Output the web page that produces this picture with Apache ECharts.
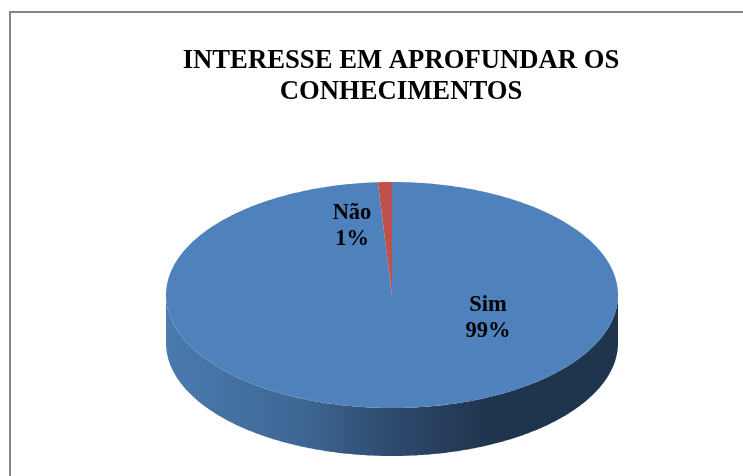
<!DOCTYPE html>
<html>
<head>
<meta charset="utf-8">
<style>
  html, body { margin: 0; padding: 0; background: #fff; }
  #main { width: 743px; height: 476px; }
</style>
<script src="https://cdn.jsdelivr.net/npm/echarts@6/dist/echarts.min.js"></script>
</head>
<body>
<div id="main"></div>
<script>
var categories = ['Sim', 'Não'];
var values = [99, 1];
var percentLabels = ['99%', '1%'];
var sliceColors = ['#4f81bd', '#c0504d'];

// the pie is flattened by hand, echarts has no 3d pie
var cx = 392, cy = 295, rx = 226, ry = 113, depth = 48;
var labelPos = [[488, 318], [352, 226]];
var total = values.reduce(function(a, b) { return a + b; }, 0);

function pt(a, dy) {
  return [cx + rx * Math.sin(a), cy - ry * Math.cos(a) + (dy || 0)];
}

function arc(a0, a1, dy) {
  var pts = [];
  var n = Math.max(2, Math.ceil((a1 - a0) / 0.01));
  for (var i = 0; i <= n; i++) {
    pts.push(pt(a0 + (a1 - a0) * i / n, dy));
  }
  return pts;
}

var wallColor = new echarts.graphic.LinearGradient(cx - rx, 0, cx + rx, 0, [
  { offset: 0, color: '#4a7aaf' },
  { offset: 0.3, color: '#3e6794' },
  { offset: 0.5, color: '#2e4a6d' },
  { offset: 0.72, color: '#1f344d' },
  { offset: 1, color: '#1f344d' }
], true);

function renderSlice(params, api) {
  var i = params.dataIndex;
  var before = 0;
  for (var k = 0; k < i; k++) before += values[k];
  var a0 = before / total * Math.PI * 2;
  var a1 = (before + api.value(0)) / total * Math.PI * 2;
  var children = [];

  // only the front half of the wall can be seen
  var w0 = Math.max(a0, Math.PI / 2);
  var w1 = Math.min(a1, Math.PI * 1.5);
  if (w1 > w0) {
    children.push({
      type: 'polygon',
      shape: { points: arc(w0, w1, 0).concat(arc(w0, w1, depth).reverse()) },
      style: { fill: wallColor }
    });
  }

  children.push({
    type: 'polygon',
    shape: { points: [[cx, cy]].concat(arc(a0, a1, 0)) },
    style: { fill: sliceColors[i] }
  });

  children.push({
    type: 'text',
    z2: 10,
    style: {
      x: labelPos[i][0],
      y: labelPos[i][1],
      text: categories[i] + '\n' + percentLabels[i],
      align: 'center',
      verticalAlign: 'middle',
      fill: '#000',
      font: 'bold 22.5px "Liberation Serif"',
      lineHeight: 25.5
    }
  });

  return { type: 'group', children: children };
}

var chart = echarts.init(document.getElementById('main'), null, { renderer: 'canvas' });
chart.setOption({
  animation: false,
  backgroundColor: '#fff',
  title: {
    text: 'INTERESSE EM APROFUNDAR OS\nCONHECIMENTOS',
    left: 396,
    top: 41,
    textAlign: 'center',
    textStyle: {
      fontFamily: 'Liberation Serif',
      fontWeight: 'bold',
      fontSize: 26.7,
      lineHeight: 31,
      color: '#000'
    }
  },
  graphic: [
    { type: 'rect', shape: { x: 9, y: 11, width: 734, height: 2 }, style: { fill: '#868686' } },
    { type: 'rect', shape: { x: 9, y: 11, width: 2, height: 465 }, style: { fill: '#868686' } }
  ],
  series: [
    {
      type: 'custom',
      coordinateSystem: 'none',
      renderItem: renderSlice,
      data: values.map(function(v, i) { return { name: categories[i], value: [v] }; })
    }
  ]
});
</script>
</body>
</html>
